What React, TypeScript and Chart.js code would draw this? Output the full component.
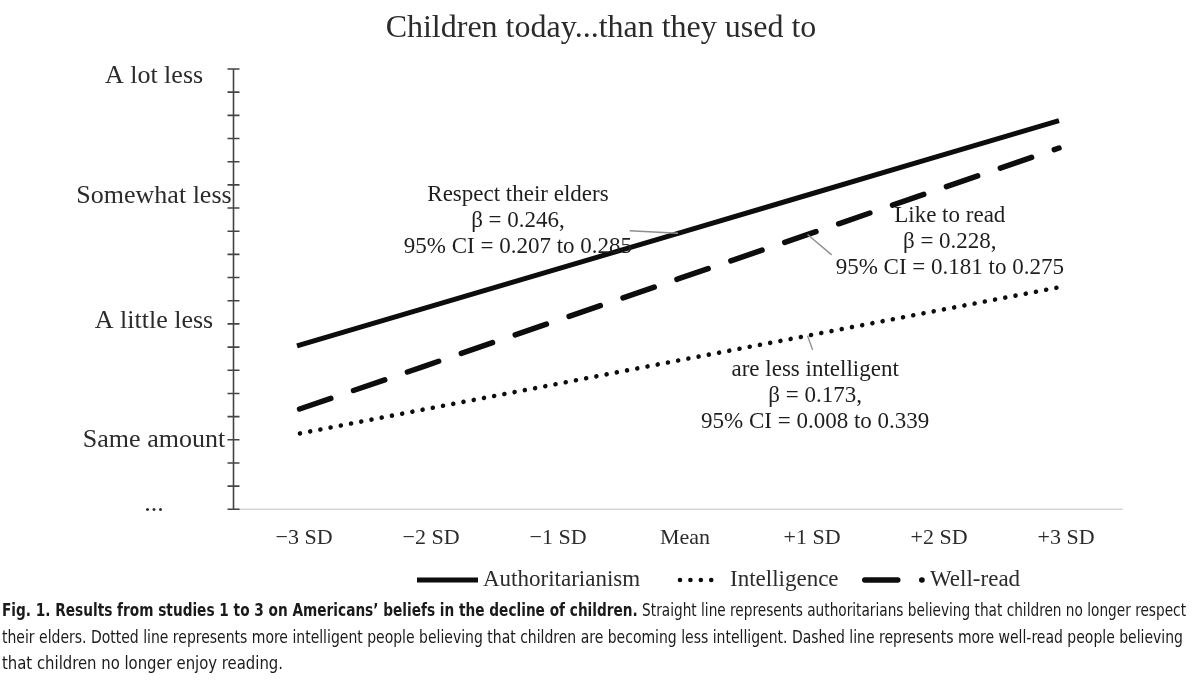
import React, { useEffect, useLayoutEffect, useRef } from "react";
import { Chart, registerables } from "chart.js";

Chart.register(...registerables);

// ---------- data ----------
const titleText = "Children today...than they used to";
const xValues = [-3, -2, -1, 0, 1, 2, 3];
const xTickLabels = ["\u22123 SD", "\u22122 SD", "\u22121 SD", "Mean", "+1 SD", "+2 SD", "+3 SD"];
const yTickLabels = ["Same amount", "A little less", "Somewhat less", "A lot less"];
const yTickValues = [3, 8.1, 13.5, 18.7];
const yBottomLabel = "...";
const seriesNames = ["Authoritarianism", "Intelligence", "Well-read"];
const authoritarianism = [7.05, 8.67, 10.29, 11.91, 13.53, 15.15, 16.77];
const intelligence = [3.25, 4.31, 5.36, 6.42, 7.47, 8.53, 9.58];
const wellRead = [4.29, 6.17, 8.06, 9.94, 11.82, 13.71, 15.59];
const noteRespect = ["Respect their elders", "\u03B2 = 0.246,", "95% CI = 0.207 to 0.285"];
const noteRead = ["Like to read", "\u03B2 = 0.228,", "95% CI = 0.181 to 0.275"];
const noteIntel = ["are less intelligent", "\u03B2 = 0.173,", "95% CI = 0.008 to 0.339"];

// ---------- style ----------
const SERIF = '"Liberation Serif", "DejaVu Serif", serif';
const TEXT = "#2b2b2b";
const LINE = "#0d0d0d";
const X_MIN = -3.5;
const X_MAX = 3.5;
const Y_MIN = 0;
const Y_MAX = 19;

type Note = {
  lines: string[];
  series: number; // dataset index the leader points to
  cx: number; // text centre, data units
  cy: number; // first line centre, data units
  anchorX: number; // leader end on the series, data units
  fromX: number; // leader start, data units
  fromY: number;
};

const notes: Note[] = [
  { lines: noteRespect, series: 0, cx: -1.26, cy: 13.56, anchorX: 0.0, fromX: -0.38, fromY: 12.02 },
  { lines: noteRead, series: 2, cx: 2.14, cy: 12.66, anchorX: 1.02, fromX: 1.21, fromY: 10.98 },
  { lines: noteIntel, series: 1, cx: 1.08, cy: 6.0, anchorX: 1.02, fromX: 1.06, fromY: 6.88 },
];

function valueAt(values: number[], x: number): number {
  for (let i = 0; i < xValues.length - 1; i++) {
    if (x >= xValues[i] && x <= xValues[i + 1]) {
      const t = (x - xValues[i]) / (xValues[i + 1] - xValues[i]);
      return values[i] + t * (values[i + 1] - values[i]);
    }
  }
  return values[values.length - 1];
}

const seriesValues = [authoritarianism, intelligence, wellRead];

const overlayPlugin = {
  id: "overlay",
  afterDatasetsDraw(chart: any) {
    const ctx: CanvasRenderingContext2D = chart.ctx;
    const xs = chart.scales.x;
    const ys = chart.scales.y;
    const ca = chart.chartArea;
    const W = chart.width;
    ctx.save();

    // title
    ctx.fillStyle = TEXT;
    ctx.font = `32px ${SERIF}`;
    ctx.textAlign = "center";
    ctx.textBaseline = "middle";
    ctx.fillText(titleText, W / 2 + 1, 29);

    // baseline (x axis)
    const y0 = ys.getPixelForValue(Y_MIN);
    ctx.strokeStyle = "#d6d6d6";
    ctx.lineWidth = 1.5;
    ctx.beginPath();
    ctx.moveTo(ca.left, y0);
    ctx.lineTo(ca.right, y0);
    ctx.stroke();

    // y axis line + ticks
    const ax = xs.getPixelForValue(X_MIN);
    ctx.strokeStyle = "#444";
    ctx.lineWidth = 1.6;
    ctx.beginPath();
    ctx.moveTo(ax, ys.getPixelForValue(Y_MAX));
    ctx.lineTo(ax, y0);
    for (let v = Y_MIN; v <= Y_MAX; v++) {
      const py = ys.getPixelForValue(v);
      ctx.moveTo(ax - 6, py);
      ctx.lineTo(ax + 6, py);
    }
    ctx.stroke();

    // y labels (centred in the left margin)
    const labelCx = ax - 79.5;
    ctx.fillStyle = TEXT;
    ctx.font = `26px ${SERIF}`;
    ctx.textAlign = "center";
    ctx.textBaseline = "middle";
    yTickLabels.forEach((t, i) => {
      ctx.fillText(t, labelCx, ys.getPixelForValue(yTickValues[i]));
    });
    ctx.textBaseline = "alphabetic";
    ctx.fillText(yBottomLabel, labelCx, y0 + 2);

    // x labels
    ctx.font = `22px ${SERIF}`;
    ctx.textBaseline = "middle";
    xTickLabels.forEach((t, i) => {
      ctx.fillText(t, xs.getPixelForValue(xValues[i]) + 7, y0 + 29);
    });

    // annotations
    notes.forEach((n) => {
      const tx = xs.getPixelForValue(n.cx);
      const ty = ys.getPixelForValue(n.cy);
      ctx.fillStyle = "#1e1e1e";
      ctx.font = `23px ${SERIF}`;
      ctx.textAlign = "center";
      ctx.textBaseline = "middle";
      n.lines.forEach((l, i) => ctx.fillText(l, tx, ty + i * 25.8));
      const ex = xs.getPixelForValue(n.anchorX);
      const ey = ys.getPixelForValue(valueAt(seriesValues[n.series], n.anchorX));
      ctx.strokeStyle = "#8f8f8f";
      ctx.lineWidth = 1.4;
      ctx.setLineDash([]);
      ctx.beginPath();
      ctx.moveTo(xs.getPixelForValue(n.fromX), ys.getPixelForValue(n.fromY));
      ctx.lineTo(ex, ey);
      ctx.stroke();
    });

    // legend
    const ly = 580;
    const samples = [
      { x0: 417, x1: 478, tx: 483 },
      { x0: 680, x1: 721.5, tx: 730 },
      { x0: 864.75, x1: 922, tx: 930 },
    ];
    chart.data.datasets.forEach((ds: any, i: number) => {
      const s = samples[i];
      ctx.strokeStyle = ds.borderColor;
      ctx.lineWidth = ds.borderWidth;
      ctx.lineCap = ds.borderCapStyle || "butt";
      ctx.setLineDash(ds.borderDash || []);
      ctx.beginPath();
      ctx.moveTo(s.x0, ly);
      ctx.lineTo(s.x1, ly);
      ctx.stroke();
      ctx.setLineDash([]);
      ctx.fillStyle = TEXT;
      ctx.font = `23px ${SERIF}`;
      ctx.textAlign = "left";
      ctx.textBaseline = "middle";
      ctx.fillText(ds.label, s.tx, ly);
    });

    ctx.restore();
  },
};

function FitLine({ target, top, children }: { target: number; top: number; children: React.ReactNode }) {
  const ref = useRef<HTMLSpanElement>(null);
  useLayoutEffect(() => {
    const el = ref.current;
    if (!el) return;
    el.style.transform = "none";
    const w = el.getBoundingClientRect().width;
    if (w > 0) el.style.transform = `scaleX(${target / w})`;
  }, [target]);
  return (
    <div style={{ position: "absolute", left: 2, top, whiteSpace: "nowrap", lineHeight: "26px", height: 26 }}>
      <span ref={ref} style={{ display: "inline-block", transformOrigin: "left center" }}>
        {children}
      </span>
    </div>
  );
}

export default function App() {
  const canvasRef = useRef<HTMLCanvasElement>(null);

  useEffect(() => {
    const canvas = canvasRef.current;
    if (!canvas) return;
    const chart = new Chart(canvas, {
      type: "line",
      data: {
        datasets: [
          {
            label: seriesNames[0],
            data: xValues.map((x, i) => ({ x, y: authoritarianism[i] })),
            borderColor: LINE,
            borderWidth: 5,
            borderCapStyle: "butt",
            pointRadius: 0,
            fill: false,
          },
          {
            label: seriesNames[1],
            data: xValues.map((x, i) => ({ x, y: intelligence[i] })),
            borderColor: LINE,
            borderWidth: 4.6,
            borderCapStyle: "round",
            borderDash: [0.01, 10.4],
            borderDashOffset: -3,
            pointRadius: 0,
            fill: false,
          },
          {
            label: seriesNames[2],
            data: xValues.map((x, i) => ({ x, y: wellRead[i] })),
            borderColor: LINE,
            borderWidth: 5.5,
            borderCapStyle: "round",
            borderDash: [33, 24],
            borderDashOffset: -2.75,
            pointRadius: 0,
            fill: false,
          },
        ],
      } as any,
      options: {
        animation: false,
        responsive: false,
        maintainAspectRatio: false,
        layout: { padding: { left: 233.5, right: 77.5, top: 69, bottom: 173.7 } },
        scales: {
          x: { type: "linear", min: X_MIN, max: X_MAX, display: false },
          y: { type: "linear", min: Y_MIN, max: Y_MAX, display: false },
        },
        plugins: {
          legend: { display: false },
          title: { display: false },
          tooltip: { enabled: false },
        },
        elements: { line: { tension: 0 } },
      } as any,
      plugins: [overlayPlugin as any],
    });
    return () => chart.destroy();
  }, []);

  const captionFont: React.CSSProperties = {
    fontFamily: '"Liberation Sans Narrow", "DejaVu Sans Condensed", "Roboto", sans-serif',
    fontStretch: "condensed",
    fontSize: 18,
    color: "#1a1a1a",
  };

  return (
    <div style={{ position: "absolute", left: 0, top: 0, width: 1200, height: 683, background: "#fff", overflow: "hidden" }}>
      <canvas ref={canvasRef} width={1200} height={683} style={{ position: "absolute", left: 0, top: 0, width: 1200, height: 683 }} />
      <div style={captionFont}>
        <FitLine target={1184} top={597}>
          <b>Fig. 1. Results from studies 1 to 3 on Americans{"\u2019"} beliefs in the decline of children.</b> Straight line
          represents authoritarians believing that children no longer respect
        </FitLine>
        <FitLine target={1181} top={624}>
          their elders. Dotted line represents more intelligent people believing that children are becoming less
          intelligent. Dashed line represents more well-read people believing
        </FitLine>
        <FitLine target={281} top={650}>
          that children no longer enjoy reading.
        </FitLine>
      </div>
    </div>
  );
}
